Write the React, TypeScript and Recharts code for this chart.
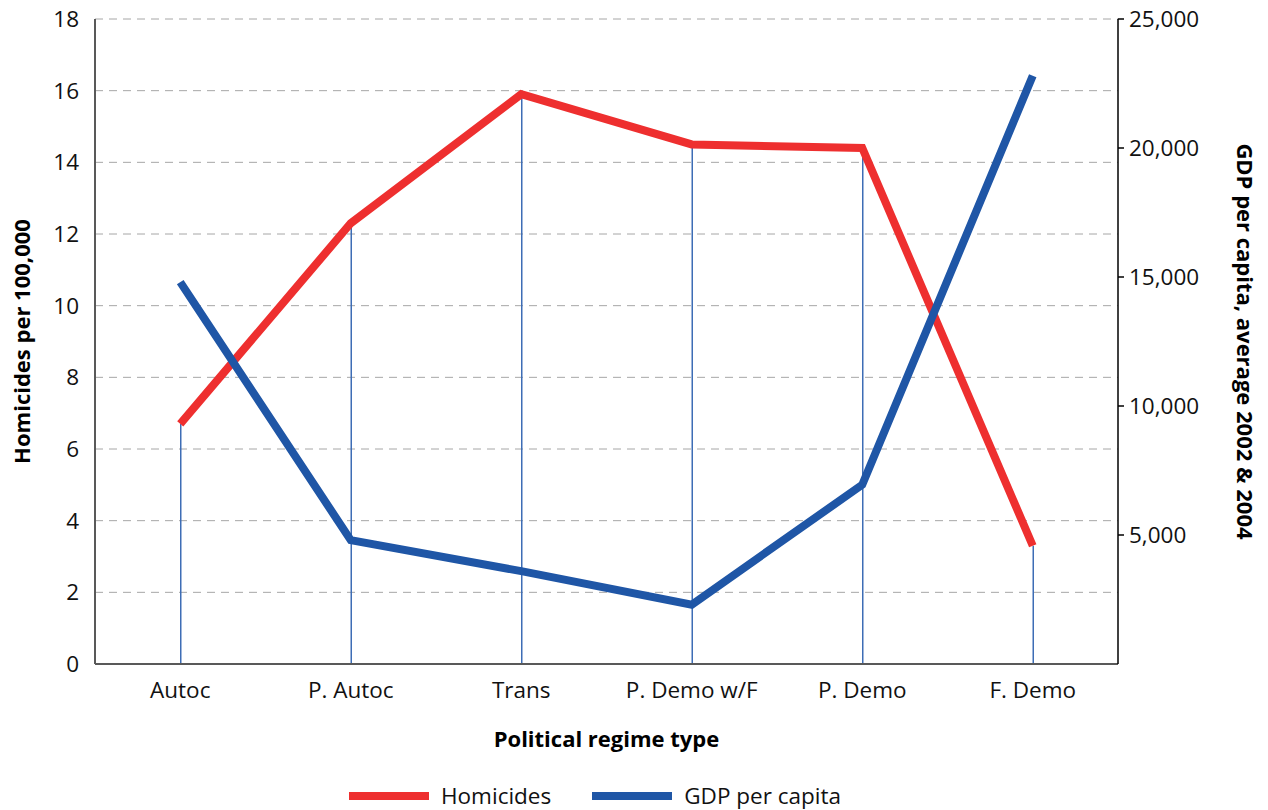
import {
  ComposedChart,
  Line,
  Bar,
  XAxis,
  YAxis,
  CartesianGrid,
  Legend,
} from 'recharts';

const regimes = ['Autoc', 'P. Autoc', 'Trans', 'P. Demo w/F', 'P. Demo', 'F. Demo'];
const homicides = [6.7, 12.3, 15.9, 14.5, 14.4, 3.3];
const gdpPerCapita = [14800, 4800, 3600, 2300, 6950, 22800];
const leftTicks = [0, 2, 4, 6, 8, 10, 12, 14, 16, 18];
const rightTicks = [5000, 10000, 15000, 20000, 25000];

const RED = '#ee2f2f';
const BLUE = '#1f56a6';
const FONT = '"Open Sans", sans-serif';
const TICK_SIZE = 22.5;
const TITLE_SIZE = 22;

const data = regimes.map((name, i) => ({
  name,
  homicides: homicides[i],
  gdp: gdpPerCapita[i],
}));

// legend drawn as long thick strokes + text, sits a bit left of centre like the original
function LegendContent() {
  const items = [
    { label: 'Homicides', color: RED },
    { label: 'GDP per capita', color: BLUE },
  ];
  return (
    <div
      style={{
        display: 'flex',
        justifyContent: 'center',
        gap: 41,
        marginTop: 10,
        position: 'relative',
        left: -39,
        fontFamily: FONT,
      }}
    >
      {items.map((it) => (
        <div key={it.label} style={{ display: 'flex', alignItems: 'center' }}>
          <div style={{ width: 80, height: 8, background: it.color, marginRight: 12 }} />
          <span style={{ fontSize: TICK_SIZE, color: '#111' }}>{it.label}</span>
        </div>
      ))}
    </div>
  );
}

export default function App() {
  return (
    <div style={{ position: 'absolute', left: 0, top: 0, background: '#fff' }}>
      <ComposedChart
        width={1268}
        height={810}
        data={data}
        margin={{ top: 19, right: 0, bottom: 0, left: 0 }}
      >
        <CartesianGrid
          yAxisId="left"
          vertical={false}
          stroke="#a6a6a6"
          strokeDasharray="8 6"
        />
        <XAxis
          dataKey="name"
          height={106}
          tickLine={false}
          stroke="#595959"
          strokeWidth={2}
          tick={{ fill: '#111', fontSize: TICK_SIZE, fontFamily: FONT }}
          tickMargin={12}
          label={{
            value: 'Political regime type',
            position: 'insideBottom',
            offset: 23,
            fill: '#000',
            fontSize: TITLE_SIZE,
            fontWeight: 700,
            fontFamily: FONT,
          }}
        />
        <YAxis
          yAxisId="left"
          width={95}
          domain={[0, 18]}
          ticks={leftTicks}
          tickLine={false}
          stroke="#595959"
          strokeWidth={2}
          tick={{ fill: '#111', fontSize: TICK_SIZE, fontFamily: FONT }}
          tickMargin={10}
          label={{
            value: 'Homicides per 100,000',
            angle: -90,
            position: 'insideLeft',
            offset: 22,
            style: { textAnchor: 'middle' },
            fill: '#000',
            fontSize: TITLE_SIZE,
            fontWeight: 700,
            fontFamily: FONT,
          }}
        />
        <YAxis
          yAxisId="right"
          orientation="right"
          width={150}
          domain={[0, 25000]}
          ticks={rightTicks}
          tickSize={6}
          tickMargin={5}
          stroke="#000"
          strokeWidth={1.5}
          tick={{ fill: '#111', fontSize: TICK_SIZE, fontFamily: FONT }}
          tickFormatter={(v: number) => v.toLocaleString('en-US')}
          label={{
            value: 'GDP per capita, average 2002 & 2004',
            angle: 90,
            position: 'insideRight',
            offset: 23,
            style: { textAnchor: 'middle' },
            fill: '#000',
            fontSize: TITLE_SIZE,
            fontWeight: 700,
            fontFamily: FONT,
          }}
        />
        <Legend verticalAlign="bottom" height={40} content={<LegendContent />} />
        <Bar
          yAxisId="left"
          dataKey="homicides"
          barSize={1.5}
          fill="#3d6db5"
          legendType="none"
          isAnimationActive={false}
        />
        <Line
          yAxisId="left"
          dataKey="homicides"
          name="Homicides"
          stroke={RED}
          strokeWidth={8}
          dot={false}
          type="linear"
          isAnimationActive={false}
        />
        <Line
          yAxisId="right"
          dataKey="gdp"
          name="GDP per capita"
          stroke={BLUE}
          strokeWidth={8}
          dot={false}
          type="linear"
          isAnimationActive={false}
        />
      </ComposedChart>
    </div>
  );
}
